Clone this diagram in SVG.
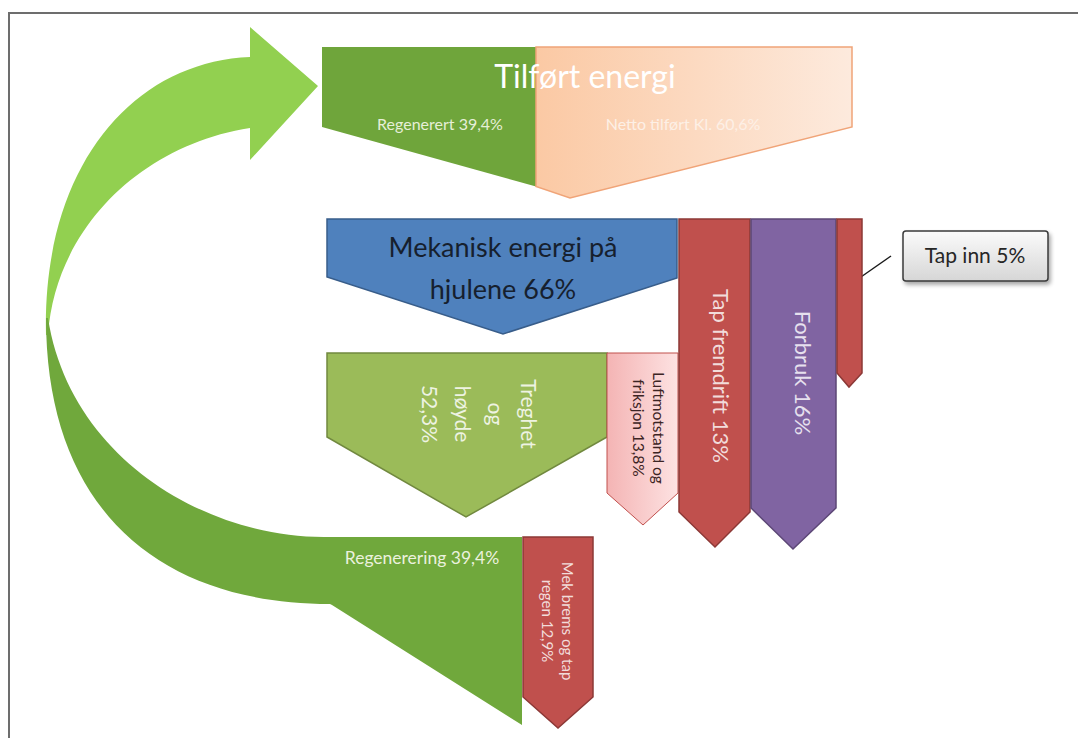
<svg xmlns="http://www.w3.org/2000/svg" width="1078" height="738" viewBox="0 0 1078 738">
  <defs>
    <linearGradient id="peach" x1="0" y1="0" x2="1" y2="0">
      <stop offset="0" stop-color="#fbc9a4"/>
      <stop offset="1" stop-color="#fdeadd"/>
    </linearGradient>
    <linearGradient id="pink" x1="0" y1="0" x2="1" y2="0">
      <stop offset="0" stop-color="#f4b4b4"/>
      <stop offset="1" stop-color="#fde2e2"/>
    </linearGradient>
    <linearGradient id="callout" x1="0" y1="0" x2="0" y2="1">
      <stop offset="0" stop-color="#fbfbfb"/>
      <stop offset="1" stop-color="#d6d6d6"/>
    </linearGradient>
    <filter id="shadow" x="-10%" y="-10%" width="130%" height="140%">
      <feGaussianBlur in="SourceAlpha" stdDeviation="2"/>
      <feOffset dx="2" dy="3" result="b"/>
      <feComponentTransfer><feFuncA type="linear" slope="0.35"/></feComponentTransfer>
      <feMerge><feMergeNode/><feMergeNode in="SourceGraphic"/></feMerge>
    </filter>
  </defs>
  <style>
    text { font-family: Lato, "Open Sans", "Liberation Sans", sans-serif; }
    .red { fill: #c0504d; stroke: #8c3836; stroke-width: 1.5; }
    .purple { fill: #8064a2; stroke: #5c4776; stroke-width: 1.5; }
    .blue { fill: #4f81bd; stroke: #385d8a; stroke-width: 1.5; }
    .olive { fill: #9bbb59; stroke: #71893f; stroke-width: 1.5; }
    .dkgreen { fill: #70a83c; }
    .ltgreen { fill: #92d050; }
    .mid { text-anchor: middle; }
  </style>

  <rect width="1078" height="738" fill="#ffffff"/>
  <polyline points="9,738 9,13 1078,13" fill="none" stroke="#6d6d6d" stroke-width="2"/>

  <g id="connectors">
    <path id="arc-upper" class="ltgreen" d="M46,335 C42,170 130,62 250,57 L250,27 L318,86 L250,160 L250,128 C140,145 55,230 48,335 Z"/>
    <path id="arc-lower" class="dkgreen" d="M46,318 C46,510 160,604 330,604 L332,605 L522,725 L522,537 L330,537 C210,540 70,460 48,318 Z"/>
    <line x1="891" y1="256" x2="848" y2="286" stroke="#1a1a1a" stroke-width="1.5"/>
  </g>

  <g id="tilfort">
    <polygon points="322,47 536,47 536,186.5 322,127" fill="#6fa53b"/>
    <polygon points="536,47 852,47 852,127 570,198 536,186.5" fill="url(#peach)" stroke="#f0a478" stroke-width="1.5"/>
    <text x="585" y="88" class="mid" font-size="32" fill="#ffffff">Tilført energi</text>
    <text x="440" y="130" class="mid" font-size="16" fill="#e6efd8">Regenerert 39,4%</text>
    <text x="683" y="130" class="mid" font-size="16" fill="#fdf0e6">Netto tilført Kl. 60,6%</text>
  </g>

  <g id="mekanisk">
    <polygon class="blue" points="327,219 677,219 677,278 503,334 327,277"/>
    <text x="503" y="257" class="mid" font-size="27" fill="#16202e">Mekanisk energi på</text>
    <text x="503" y="299" class="mid" font-size="27" fill="#16202e">hjulene 66%</text>
  </g>

  <g id="treghet">
    <polygon class="olive" points="327,353 607,353 607,437 466,517 327,437"/>
    <g font-size="21" fill="#eef3e2">
      <text transform="translate(528,414) rotate(90)" y="7" text-anchor="middle">Treghet</text>
      <text transform="translate(495,414) rotate(90)" y="7" text-anchor="middle">og</text>
      <text transform="translate(462,414) rotate(90)" y="7" text-anchor="middle">høyde</text>
      <text transform="translate(429,414) rotate(90)" y="7" text-anchor="middle">52,3%</text>
    </g>
  </g>

  <g id="luftmotstand">
    <polygon points="607,353 678,353 678,493 643,525 607,493" fill="url(#pink)" stroke="#c0504d" stroke-width="1"/>
    <text transform="translate(658,428) rotate(90)" y="5" text-anchor="middle" font-size="15.5" fill="#3c2424">Luftmotstand og</text>
    <text transform="translate(638,428) rotate(90)" y="5" text-anchor="middle" font-size="15.5" fill="#3c2424">friksjon 13,8%</text>
  </g>

  <g id="tap-fremdrift">
    <polygon class="red" points="679,219 750,219 750,512 715,547 679,512"/>
    <text transform="translate(721,376) rotate(90)" y="8" text-anchor="middle" font-size="22" fill="#f2dcdb">Tap fremdrift 13%</text>
  </g>

  <g id="forbruk">
    <polygon class="purple" points="751,219 836,219 836,508 793,549 751,508"/>
    <text transform="translate(803,373) rotate(90)" y="8" text-anchor="middle" font-size="22" fill="#e6e0ee">Forbruk 16%</text>
  </g>

  <g id="tap-inn-bar">
    <polygon class="red" points="837,219 862,219 862,373 849,387 837,373"/>
  </g>

  <g id="tap-inn-label">
    <rect x="903" y="231" width="145" height="50" rx="3" fill="url(#callout)" stroke="#3a3a3a" stroke-width="1.5" filter="url(#shadow)"/>
    <text x="975" y="263" class="mid" font-size="21" fill="#262626">Tap inn 5%</text>
  </g>

  <g id="regenerering">
    <text x="422" y="564" class="mid" font-size="17.5" fill="#ebf1de">Regenerering 39,4%</text>
  </g>

  <g id="mek-brems">
    <polygon class="red" points="523,537 593,537 593,697 558,728 523,697"/>
    <text transform="translate(567,621) rotate(90)" y="5" text-anchor="middle" font-size="15" fill="#f2dcdb">Mek brems og tap</text>
    <text transform="translate(547,621) rotate(90)" y="5" text-anchor="middle" font-size="15" fill="#f2dcdb">regen 12,9%</text>
  </g>
</svg>
